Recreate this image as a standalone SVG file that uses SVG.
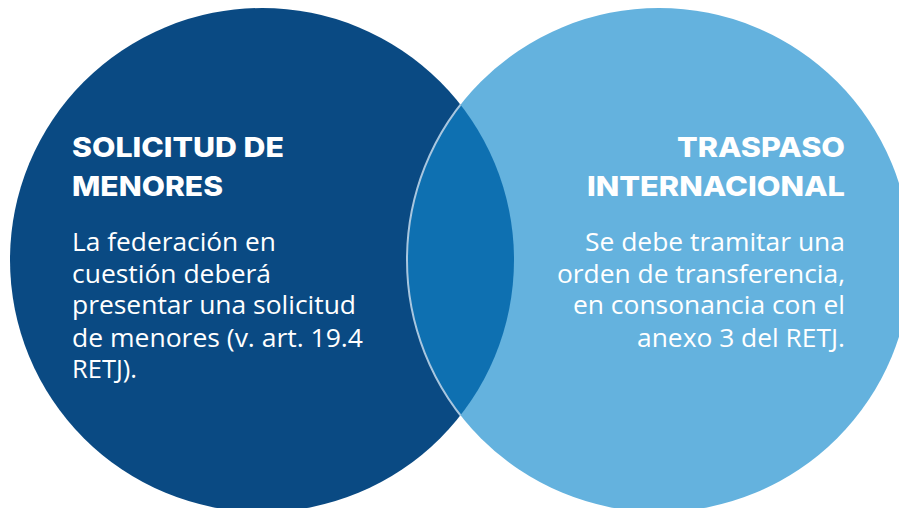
<svg xmlns="http://www.w3.org/2000/svg" width="901" height="508" viewBox="0 0 901 508">
  <style>
    .head { font-family: "Inter", "Open Sans", "Liberation Sans", sans-serif; font-weight: 800; font-size: 27.5px; fill: #ffffff; }
    .body { font-family: "Open Sans", "Noto Sans", "Liberation Sans", sans-serif; font-weight: 400; font-size: 26.3px; fill: #ffffff; }
    .r { text-anchor: end; }
  </style>
  <defs>
    <clipPath id="leftClip">
      <circle cx="262" cy="260" r="252"/>
    </clipPath>
    <clipPath id="page">
      <rect x="0" y="0" width="899" height="508"/>
    </clipPath>
  </defs>
  <rect x="0" y="0" width="901" height="508" fill="#ffffff"/>
  <g clip-path="url(#page)">
    <g id="node-solicitud">
      <circle cx="262" cy="260" r="252" fill="#0a4a83"/>
    </g>
    <g id="node-traspaso">
      <circle cx="659" cy="260" r="252" fill="#64b2de"/>
    </g>
    <g id="node-overlap">
      <circle cx="659" cy="260" r="252" fill="#0e70b1" stroke="#a8c6df" stroke-width="2" clip-path="url(#leftClip)"/>
    </g>
  </g>
  <g id="connectors"/>
  <g id="labels-solicitud">
    <text class="head" x="72" y="157" textLength="212" lengthAdjust="spacingAndGlyphs">SOLICITUD DE</text>
    <text class="head" x="72" y="196" textLength="151" lengthAdjust="spacingAndGlyphs">MENORES</text>
    <text class="body" x="72" y="251" textLength="204" lengthAdjust="spacingAndGlyphs">La federación en</text>
    <text class="body" x="72" y="283" textLength="199" lengthAdjust="spacingAndGlyphs">cuestión deberá</text>
    <text class="body" x="72" y="314" textLength="284" lengthAdjust="spacingAndGlyphs">presentar una solicitud</text>
    <text class="body" x="72" y="347" textLength="291" lengthAdjust="spacingAndGlyphs">de menores (v. art. 19.4</text>
    <text class="body" x="72" y="378" textLength="65" lengthAdjust="spacingAndGlyphs">RETJ).</text>
  </g>
  <g id="labels-traspaso">
    <text class="head" x="677" y="157" textLength="168" lengthAdjust="spacingAndGlyphs">TRASPASO</text>
    <text class="head" x="587" y="196" textLength="258" lengthAdjust="spacingAndGlyphs">INTERNACIONAL</text>
    <text class="body" x="585" y="251" textLength="260" lengthAdjust="spacingAndGlyphs">Se debe tramitar una</text>
    <text class="body" x="557" y="283" textLength="288" lengthAdjust="spacingAndGlyphs">orden de transferencia,</text>
    <text class="body" x="573" y="314" textLength="272" lengthAdjust="spacingAndGlyphs">en consonancia con el</text>
    <text class="body" x="637" y="347" textLength="208" lengthAdjust="spacingAndGlyphs">anexo 3 del RETJ.</text>
  </g>
</svg>
